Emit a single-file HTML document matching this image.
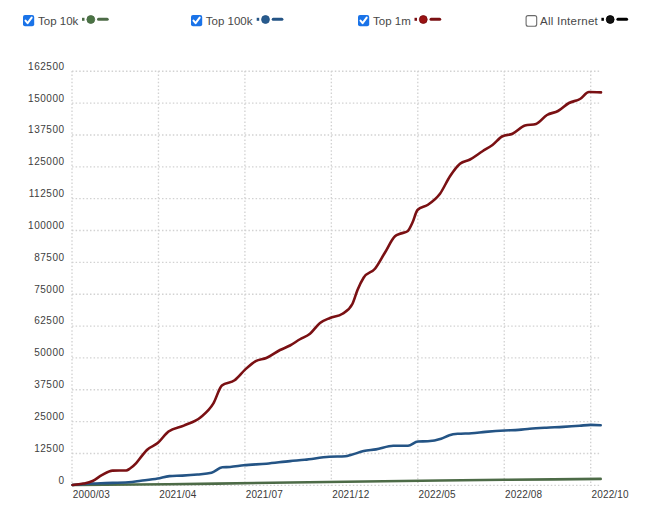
<!DOCTYPE html>
<html><head><meta charset="utf-8"><style>
html,body{margin:0;padding:0;background:#fff;width:650px;height:520px;overflow:hidden}
svg{display:block;font-family:"Liberation Sans",sans-serif}
.g{stroke:#d2d2d2;stroke-width:1.35;stroke-dasharray:1.5 2.1}
.yl{font-size:10px;fill:#404040;text-anchor:end;letter-spacing:0.55px}
.xl{font-size:10px;fill:#3a3a3a;letter-spacing:0.15px}
.lg{font-size:11.5px;fill:#474747}
.ln{fill:none;stroke-width:2.6;stroke-linejoin:round;stroke-linecap:round}
</style></head><body>
<svg width="650" height="520" viewBox="0 0 650 520">
<line x1="72" y1="485.30" x2="600.5" y2="485.30" class="g"/>
<line x1="72" y1="453.45" x2="600.5" y2="453.45" class="g"/>
<line x1="72" y1="421.60" x2="600.5" y2="421.60" class="g"/>
<line x1="72" y1="389.75" x2="600.5" y2="389.75" class="g"/>
<line x1="72" y1="357.90" x2="600.5" y2="357.90" class="g"/>
<line x1="72" y1="326.05" x2="600.5" y2="326.05" class="g"/>
<line x1="72" y1="294.20" x2="600.5" y2="294.20" class="g"/>
<line x1="72" y1="262.35" x2="600.5" y2="262.35" class="g"/>
<line x1="72" y1="230.50" x2="600.5" y2="230.50" class="g"/>
<line x1="72" y1="198.65" x2="600.5" y2="198.65" class="g"/>
<line x1="72" y1="166.80" x2="600.5" y2="166.80" class="g"/>
<line x1="72" y1="134.95" x2="600.5" y2="134.95" class="g"/>
<line x1="72" y1="103.10" x2="600.5" y2="103.10" class="g"/>
<line x1="72" y1="71.25" x2="600.5" y2="71.25" class="g"/>
<line x1="72.00" y1="71" x2="72.00" y2="486" class="g"/>
<line x1="158.45" y1="71" x2="158.45" y2="486" class="g"/>
<line x1="244.90" y1="71" x2="244.90" y2="486" class="g"/>
<line x1="331.35" y1="71" x2="331.35" y2="486" class="g"/>
<line x1="417.80" y1="71" x2="417.80" y2="486" class="g"/>
<line x1="504.25" y1="71" x2="504.25" y2="486" class="g"/>
<line x1="590.70" y1="71" x2="590.70" y2="486" class="g"/>
<text x="64.7" y="483.7" class="yl">0</text>
<text x="64.7" y="451.8" class="yl">12500</text>
<text x="64.7" y="420.0" class="yl">25000</text>
<text x="64.7" y="388.1" class="yl">37500</text>
<text x="64.7" y="356.3" class="yl">50000</text>
<text x="64.7" y="324.4" class="yl">62500</text>
<text x="64.7" y="292.6" class="yl">75000</text>
<text x="64.7" y="260.8" class="yl">87500</text>
<text x="64.7" y="228.9" class="yl">100000</text>
<text x="64.7" y="197.0" class="yl">112500</text>
<text x="64.7" y="165.2" class="yl">125000</text>
<text x="64.7" y="133.3" class="yl">137500</text>
<text x="64.7" y="101.5" class="yl">150000</text>
<text x="64.7" y="69.7" class="yl">162500</text>
<text x="72.8" y="498" class="xl">2000/03</text>
<text x="159.2" y="498" class="xl">2021/04</text>
<text x="245.7" y="498" class="xl">2021/07</text>
<text x="332.2" y="498" class="xl">2021/12</text>
<text x="418.6" y="498" class="xl">2022/05</text>
<text x="505.1" y="498" class="xl">2022/08</text>
<text x="591.5" y="498" class="xl">2022/10</text>
<path d="M72.60,485.00 C104.40,484.82 136.20,484.64 168.00,484.30 C208.67,483.87 249.33,483.07 290.00,482.50 C340.00,481.79 390.00,481.08 440.00,480.50 C461.60,480.25 483.20,480.02 504.80,479.80 C536.77,479.47 568.73,479.19 600.70,478.90" class="ln" stroke="#4d6b47"/>
<path d="M72.60,485.00 C79.27,484.41 85.93,483.82 92.60,483.50 C96.87,483.29 101.13,483.24 105.40,483.10 C113.10,482.85 120.80,482.83 128.50,482.30 C132.60,482.02 136.70,481.32 140.80,480.80 C146.43,480.08 152.07,479.50 157.70,478.50 C161.60,477.81 165.50,476.40 169.40,476.10 C173.70,475.77 178.00,475.83 182.30,475.60 C187.33,475.33 192.37,475.01 197.40,474.50 C202.10,474.02 206.80,473.90 211.50,472.70 C215.10,471.78 218.70,467.58 222.30,467.30 C224.87,467.10 227.43,467.18 230.00,467.00 C234.60,466.68 239.20,465.78 243.80,465.30 C251.33,464.52 258.87,464.38 266.40,463.70 C274.27,462.99 282.13,461.86 290.00,461.10 C294.87,460.63 299.73,460.29 304.60,459.80 C312.83,458.97 321.07,457.31 329.30,456.80 C334.63,456.47 339.97,456.63 345.30,456.30 C347.33,456.17 349.37,455.34 351.40,454.80 C355.50,453.72 359.60,452.00 363.70,451.10 C367.80,450.20 371.90,450.10 376.00,449.40 C381.77,448.42 387.53,445.70 393.30,445.70 C398.20,445.70 403.10,445.70 408.00,445.70 C411.30,445.70 414.60,441.63 417.90,441.50 C421.20,441.37 424.50,441.43 427.80,441.30 C432.23,441.12 436.67,440.30 441.10,438.80 C443.87,437.86 446.63,436.03 449.40,435.20 C452.17,434.37 454.93,434.04 457.70,433.80 C462.33,433.40 466.97,433.52 471.60,433.20 C476.20,432.88 480.80,432.29 485.40,431.90 C491.87,431.35 498.33,430.86 504.80,430.50 C509.40,430.25 514.00,430.24 518.60,429.90 C522.30,429.63 526.00,429.12 529.70,428.80 C535.23,428.32 540.77,428.02 546.30,427.70 C551.87,427.38 557.43,427.22 563.00,426.90 C568.53,426.58 574.07,426.22 579.60,425.80 C583.30,425.52 587.00,424.90 590.70,424.90 C594.03,424.90 597.37,425.05 600.70,425.20" class="ln" stroke="#245485"/>
<path d="M72.60,485.00 C76.20,484.68 79.80,484.36 83.40,483.60 C86.47,482.95 89.53,482.40 92.60,481.00 C95.67,479.60 98.73,476.84 101.80,475.20 C105.40,473.27 109.00,470.65 112.60,470.60 C117.13,470.53 121.67,470.57 126.20,470.50 C127.47,470.48 128.73,469.33 130.00,468.50 C132.07,467.14 134.13,465.31 136.20,463.10 C138.23,460.93 140.27,457.86 142.30,455.40 C143.83,453.54 145.37,451.55 146.90,450.00 C150.50,446.35 154.10,446.18 157.70,443.10 C161.30,440.02 164.90,434.28 168.50,431.50 C173.60,427.57 178.70,427.84 183.80,425.60 C189.43,423.13 195.07,421.90 200.70,417.20 C204.93,413.67 209.17,410.58 213.40,403.40 C216.23,398.59 219.07,387.86 221.90,385.50 C226.13,381.97 230.37,383.34 234.60,380.20 C238.10,377.60 241.60,372.77 245.10,369.60 C248.63,366.40 252.17,363.03 255.70,361.10 C259.23,359.17 262.77,359.48 266.30,358.00 C270.87,356.08 275.43,352.31 280.00,350.00 C283.33,348.31 286.67,347.29 290.00,345.50 C293.33,343.71 296.67,341.21 300.00,339.25 C303.33,337.29 306.67,336.46 310.00,333.75 C313.33,331.04 316.67,325.62 320.00,323.00 C323.33,320.38 326.67,319.43 330.00,318.00 C334.17,316.21 338.33,316.58 342.50,313.75 C345.83,311.48 349.17,310.42 352.50,303.75 C354.17,300.42 355.83,294.03 357.50,290.00 C359.58,284.97 361.67,280.74 363.75,277.50 C367.50,271.67 371.25,273.35 375.00,268.75 C378.33,264.66 381.67,257.92 385.00,252.50 C388.33,247.08 391.67,239.17 395.00,236.25 C396.67,234.79 398.33,234.47 400.00,233.75 C402.50,232.67 405.00,232.92 407.50,231.25 C409.17,230.14 410.83,226.04 412.50,222.50 C414.17,218.96 415.83,211.67 417.50,210.00 C420.83,206.67 424.17,207.26 427.50,205.00 C431.67,202.18 435.83,199.47 440.00,193.75 C443.33,189.18 446.67,181.25 450.00,176.25 C453.33,171.25 456.67,166.54 460.00,163.75 C463.33,160.96 466.67,161.26 470.00,159.50 C474.17,157.29 478.33,153.92 482.50,151.25 C485.83,149.11 489.17,147.50 492.50,145.00 C495.83,142.50 499.17,137.92 502.50,136.25 C505.83,134.58 509.17,135.18 512.50,133.75 C516.67,131.96 520.83,126.81 525.00,125.60 C528.67,124.53 532.33,125.07 536.00,124.00 C539.67,122.93 543.33,117.17 547.00,115.00 C550.67,112.83 554.33,113.00 558.00,111.00 C561.67,109.00 565.33,105.00 569.00,103.00 C572.67,101.00 576.33,101.17 580.00,99.00 C583.00,97.23 586.00,92.00 589.00,92.00 C593.00,92.00 597.00,92.20 601.00,92.40" class="ln" stroke="#7a1013"/>
<rect x="23.0" y="15" width="11.2" height="11.2" rx="2" fill="#1a73e8"/><path d="M25.5,20.6 L27.6,23.2 L31.7,17.6" fill="none" stroke="#fff" stroke-width="2" stroke-linecap="round" stroke-linejoin="round"/><text x="38.0" y="24.6" class="lg">Top 10k</text><rect x="82.0" y="17.8" width="2.5" height="3" fill="#4d6b47"/><circle cx="90.8" cy="19.5" r="3.9" fill="#4a7444" stroke="#4d6b47" stroke-width="0.9"/><line x1="98.5" y1="19.3" x2="107.2" y2="19.3" stroke="#4d6b47" stroke-width="3" stroke-linecap="round"/>
<rect x="191.0" y="15" width="11.2" height="11.2" rx="2" fill="#1a73e8"/><path d="M193.5,20.6 L195.6,23.2 L199.7,17.6" fill="none" stroke="#fff" stroke-width="2" stroke-linecap="round" stroke-linejoin="round"/><text x="205.8" y="24.6" class="lg">Top 100k</text><rect x="256.7" y="17.8" width="2.5" height="3" fill="#245485"/><circle cx="265.5" cy="19.5" r="3.9" fill="#285b8e" stroke="#245485" stroke-width="0.9"/><line x1="273.2" y1="19.3" x2="281.9" y2="19.3" stroke="#245485" stroke-width="3" stroke-linecap="round"/>
<rect x="358.0" y="15" width="11.2" height="11.2" rx="2" fill="#1a73e8"/><path d="M360.5,20.6 L362.6,23.2 L366.7,17.6" fill="none" stroke="#fff" stroke-width="2" stroke-linecap="round" stroke-linejoin="round"/><text x="373.0" y="24.6" class="lg">Top 1m</text><rect x="414.5" y="17.8" width="2.5" height="3" fill="#7a1013"/><circle cx="423.3" cy="19.5" r="3.9" fill="#9a1212" stroke="#7a1013" stroke-width="0.9"/><line x1="431.0" y1="19.3" x2="439.7" y2="19.3" stroke="#7a1013" stroke-width="3" stroke-linecap="round"/>
<rect x="526.1" y="15.6" width="10.6" height="10.6" rx="2" fill="#fff" stroke="#6a6a6a" stroke-width="1.1"/><text x="540.0" y="24.6" class="lg" style="letter-spacing:0.25px">All Internet</text><rect x="601.4" y="17.8" width="2.5" height="3" fill="#000"/><circle cx="610.2" cy="19.5" r="3.9" fill="#111" stroke="#000" stroke-width="0.9"/><line x1="617.9" y1="19.3" x2="626.6" y2="19.3" stroke="#000" stroke-width="3" stroke-linecap="round"/>
</svg>
</body></html>
